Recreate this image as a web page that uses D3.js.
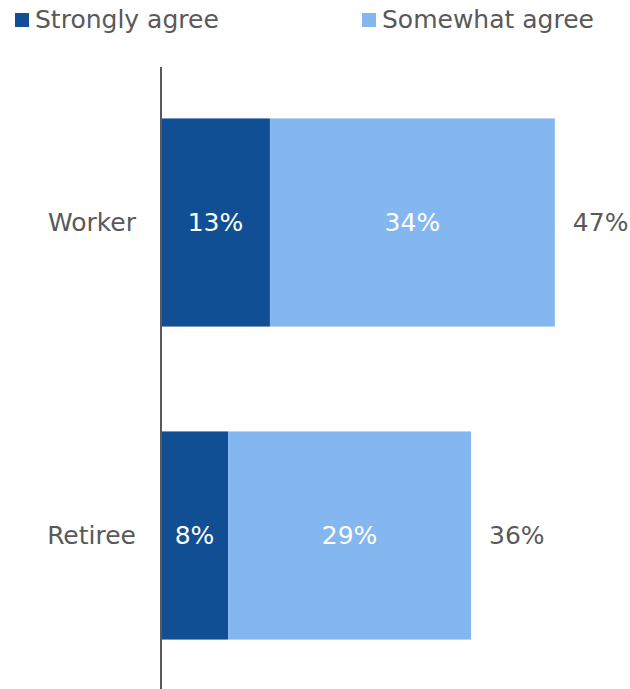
<!DOCTYPE html>
<html>
<head>
<meta charset="utf-8">
<script src="https://cdn.jsdelivr.net/npm/d3@7"></script>
<style>
  html, body { margin: 0; padding: 0; background: #fff; }
  svg { display: block; }
  text { font-family: "DejaVu Sans", sans-serif; }
</style>
</head>
<body>
<svg id="chart" width="630" height="689"></svg>
<script>
// Share agreeing, by respondent group
const groups = ["Worker", "Retiree"];
const seriesNames = ["Strongly agree", "Somewhat agree"];
const stronglyAgree = [13, 8];
const somewhatAgree = [34, 29];
const totalLabels = ["47%", "36%"];

const colors = ["#114F94", "#84B7F0"];
const textGray = "#595959";
const fontSize = 25;

const svg = d3.select("#chart");
const W = 630, H = 689;

const rows = groups.map((g, i) => ({
  group: g,
  values: [stronglyAgree[i], somewhatAgree[i]],
  total: totalLabels[i]
}));

const x = d3.scaleLinear().domain([0, 100]).range([161, 161 + 838]);
const y = d3.scaleBand().domain(groups).range([66, 692])
  .paddingInner(0.335).paddingOuter(0.1675);

// stacked segments
const stack = d3.stack().keys([0, 1]).value((d, k) => d.values[k]);
const layers = stack(rows);

const layerG = svg.selectAll("g.layer").data(layers).join("g")
  .attr("class", "layer")
  .attr("fill", (d, i) => colors[i]);

layerG.selectAll("rect").data(d => d).join("rect")
  .attr("x", d => x(d[0]))
  .attr("width", d => x(d[1]) - x(d[0]))
  .attr("y", d => y(d.data.group))
  .attr("height", y.bandwidth());

// segment value labels
layerG.selectAll("text").data(d => d).join("text")
  .attr("x", d => (x(d[0]) + x(d[1])) / 2)
  .attr("y", d => y(d.data.group) + y.bandwidth() / 2)
  .attr("text-anchor", "middle")
  .attr("dominant-baseline", "central")
  .attr("fill", "#fff")
  .attr("font-size", fontSize)
  .text(d => (d[1] - d[0]) + "%");

// totals beyond the bars
svg.selectAll("text.total").data(layers[1]).join("text")
  .attr("class", "total")
  .attr("x", d => x(d[1]) + 18)
  .attr("y", d => y(d.data.group) + y.bandwidth() / 2)
  .attr("dominant-baseline", "central")
  .attr("fill", textGray)
  .attr("font-size", fontSize)
  .text(d => d.data.total);

// category axis
const yAxis = svg.append("g")
  .attr("transform", "translate(161,0)")
  .call(d3.axisLeft(y).tickSize(0).tickPadding(25));
yAxis.select(".domain")
  .attr("d", `M0,67V${H}`)
  .attr("stroke", textGray)
  .attr("stroke-width", 2);
yAxis.selectAll(".tick text")
  .attr("fill", textGray)
  .attr("font-size", fontSize)
  .attr("font-family", "DejaVu Sans, sans-serif")
  .attr("dy", "0.35em");

// legend
const legendX = [15, 362];
const legend = svg.selectAll("g.legend").data(seriesNames).join("g")
  .attr("class", "legend")
  .attr("transform", (d, i) => `translate(${legendX[i]},13)`);
legend.append("rect")
  .attr("width", 14).attr("height", 14)
  .attr("fill", (d, i) => colors[i]);
legend.append("text")
  .attr("x", 20).attr("y", 15)
  .attr("fill", textGray)
  .attr("font-size", fontSize)
  .text(d => d);
</script>
</body>
</html>
